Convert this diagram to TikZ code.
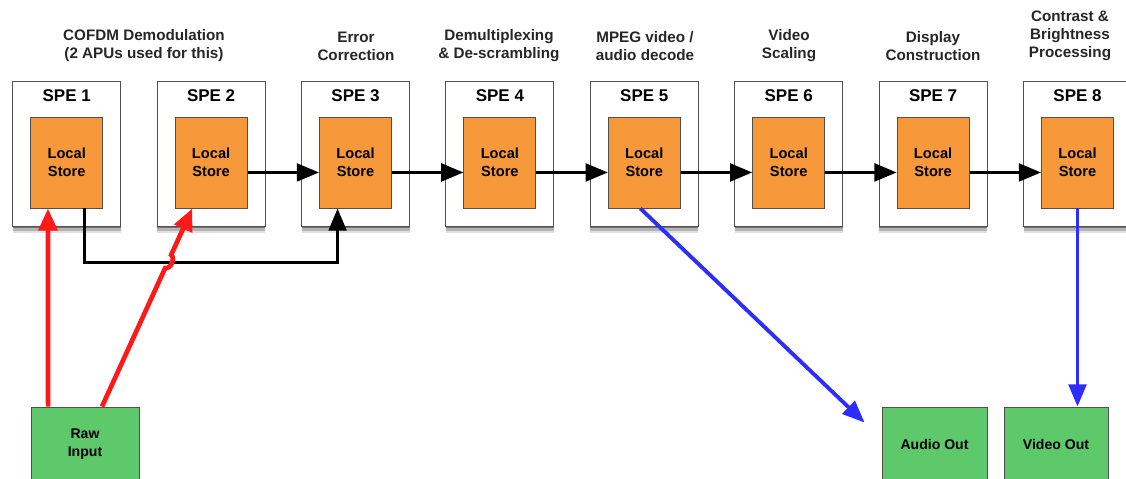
\documentclass[tikz,border=0pt]{standalone}
\usepackage{fontspec}
\setmainfont{Liberation Sans}
\usetikzlibrary{arrows.meta,calc,shadows}
\definecolor{lsorange}{RGB}{247,153,58}
\definecolor{iogreen}{RGB}{94,201,106}
\definecolor{arrred}{RGB}{255,25,25}
\definecolor{arrblue}{RGB}{45,45,255}
\definecolor{edgegray}{RGB}{80,80,80}
\begin{document}
\begin{tikzpicture}[x=0.03cm,y=-0.03cm,
 spebox/.style={draw=edgegray,line width=0.8pt,fill=white,minimum width=3.24cm,minimum height=4.35cm,
   general shadow={shadow xshift=0pt,shadow yshift=-6pt,shadow scale=1,fill=black,opacity=0.12},
   general shadow={shadow xshift=0pt,shadow yshift=-4pt,shadow scale=1,fill=black,opacity=0.2},
   general shadow={shadow xshift=0pt,shadow yshift=-2pt,shadow scale=1,fill=black,opacity=0.35}},
 lsbox/.style={draw=edgegray,line width=0.7pt,fill=lsorange,minimum width=2.16cm,minimum height=2.73cm,
   align=center,font=\fontsize{12.5}{15}\selectfont\bfseries},
 spetitle/.style={font=\fontsize{14.5}{16}\selectfont\bfseries},
 steplabel/.style={align=center,font=\fontsize{13}{15.3}\selectfont\bfseries,text=black!85},
 iobox/.style={draw=edgegray,line width=0.7pt,fill=iogreen,minimum height=2.22cm,
   align=center,font=\fontsize{12}{15}\selectfont\bfseries},
 flow/.style={line width=3pt,-{Triangle[length=19pt,width=15pt]}},
 redflow/.style={draw=arrred,line width=4pt,-{Triangle[length=19pt,width=16pt]}},
 blueflow/.style={draw=arrblue,line width=3.3pt,-{Triangle[length=19pt,width=15pt]}}
]
\useasboundingbox (0,0) rectangle (1126,479);

\foreach \i in {1,...,8}{
  \pgfmathsetmacro\cx{66.7+144.4*(\i-1)}
  \node[spebox] (spe\i) at (\cx,153.5) {};
  \node[spetitle] (t\i) at (\cx,96) {SPE \i};
  \node[lsbox] (ls\i) at (\cx,162.5) {Local\\Store};
}

\node[steplabel] (lab1) at (144,46) {COFDM Demodulation\\(2 APUs used for this)};
\node[steplabel] (lab3) at (356,46) {Error\\Correction};
\node[steplabel] (lab4) at (499,46) {Demultiplexing\\\& De-scrambling};
\node[steplabel] (lab5) at (645,46) {MPEG video /\\audio decode};
\node[steplabel] (lab6) at (789,46) {Video\\Scaling};
\node[steplabel] (lab7) at (933,46) {Display\\Construction};
\node[steplabel] (lab8) at (1070,36) {Contrast \&\\Brightness\\Processing};

\node[iobox,minimum width=3.24cm] (raw) at (85,444) {Raw\\Input};
\node[iobox,minimum width=3.15cm] (audio) at (934.5,444) {Audio Out};
\node[iobox,minimum width=3.12cm] (video) at (1056,444) {Video Out};

\foreach \i [evaluate=\i as \j using int(\i+1)] in {2,...,7}{
  \draw[flow] ([yshift=-8.5pt]ls\i.east) -- ([yshift=-8.5pt]ls\j.west);
}

\draw[flow] ([xshift=15.3pt]ls1.south) -- ++(0,54) -| ([xshift=-15.3pt]ls3.south);

\draw[redflow] ([xshift=-31.5pt]raw.north) -- ([xshift=-16pt]ls1.south);
\coordinate (r2a) at ([xshift=14.5pt]raw.north);
\coordinate (r2b) at ([xshift=-16pt]ls2.south);
\draw[redflow] (r2a) -- ($(r2a)!0.70!(r2b)$) to[bend right=80] ($(r2a)!0.765!(r2b)$) -- (r2b);

\draw[blueflow] ([xshift=-3.4pt]ls5.south) -- ([shift={(-17,16)}]audio.north west);
\draw[blueflow] (ls8.south) -- (ls8.south |- video.north);
\end{tikzpicture}
\end{document}
